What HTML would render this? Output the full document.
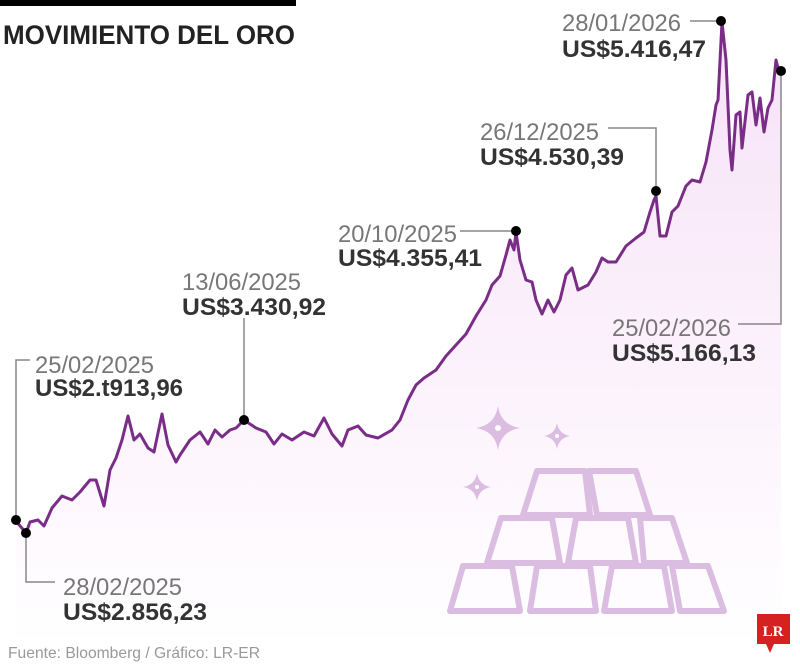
<!DOCTYPE html>
<html><head><meta charset="utf-8"><style>
body{margin:0;background:#fff;width:800px;height:666px;overflow:hidden;font-family:"Liberation Sans",sans-serif}
</style></head><body>
<svg width="800" height="666" viewBox="0 0 800 666" xmlns="http://www.w3.org/2000/svg">
<defs>
<linearGradient id="g" x1="0" y1="0" x2="0" y2="1">
<stop offset="0" stop-color="#f6e2f7"/><stop offset="0.6" stop-color="#fcf3fc"/><stop offset="1" stop-color="#ffffff"/>
</linearGradient>
</defs>
<rect x="0" y="0" width="296" height="6" fill="#000"/>
<text x="3" y="44" font-size="27" font-weight="bold" fill="#222" textLength="292" lengthAdjust="spacingAndGlyphs">MOVIMIENTO DEL ORO</text>
<path d="M16,521 L26,533 30,522 38,520 44,526 52,508 62,496 72,500 80,492 90,480 96,480 104,506 110,470 116,458 122,440 128,416 134,440 140,434 148,448 154,452 162,414 168,445 176,462 180,455 190,440 200,432 208,444 215,430 222,437 230,430 236,428 244,420 256,428 266,432 274,444 282,434 292,440 304,432 314,436 324,418 332,434 342,446 348,430 358,426 366,435 378,438 392,430 400,420 408,400 416,385 424,378 436,370 446,356 456,345 466,334 476,316 486,300 492,285 500,276 506,255 510,240 514,250 516,232 520,260 526,280 532,282 536,300 542,314 548,300 554,312 560,300 566,275 572,268 578,290 588,285 596,272 602,258 608,262 616,262 626,246 636,238 644,232 650,212 654,200 656,196 660,236 666,236 672,212 678,206 686,186 692,180 700,182 706,162 712,130 716,105 718,100 722,22 726,60 730,150 732,170 736,115 740,112 742,148 748,95 752,92 756,125 760,98 764,132 768,108 772,100 776,60 778,68 781,71 L781,645 L16,645 Z" fill="url(#g)"/>
<polyline fill="none" stroke="#7a2d86" stroke-width="3" stroke-linejoin="round" points="16,521 26,533 30,522 38,520 44,526 52,508 62,496 72,500 80,492 90,480 96,480 104,506 110,470 116,458 122,440 128,416 134,440 140,434 148,448 154,452 162,414 168,445 176,462 180,455 190,440 200,432 208,444 215,430 222,437 230,430 236,428 244,420 256,428 266,432 274,444 282,434 292,440 304,432 314,436 324,418 332,434 342,446 348,430 358,426 366,435 378,438 392,430 400,420 408,400 416,385 424,378 436,370 446,356 456,345 466,334 476,316 486,300 492,285 500,276 506,255 510,240 514,250 516,232 520,260 526,280 532,282 536,300 542,314 548,300 554,312 560,300 566,275 572,268 578,290 588,285 596,272 602,258 608,262 616,262 626,246 636,238 644,232 650,212 654,200 656,196 660,236 666,236 672,212 678,206 686,186 692,180 700,182 706,162 712,130 716,105 718,100 722,22 726,60 730,150 732,170 736,115 740,112 742,148 748,95 752,92 756,125 760,98 764,132 768,108 772,100 776,60 778,68 781,71"/>
<g fill="none" stroke="#dcbde2" stroke-width="6" stroke-linejoin="round">
<path d="M537,471 L585,471 L590,515 L523,515 Z"/>
<path d="M589,471 L636,471 L650,515 L597,515 Z"/>
<path d="M501,518 L552,518 L560,563 L487,563 Z"/>
<path d="M576,518 L628,518 L636,563 L568,563 Z"/>
<path d="M640,518 L672,518 L687,563 L644,563 Z"/>
<path d="M463,566 L512,566 L520,611 L450,611 Z"/>
<path d="M537,566 L590,566 L596,611 L530,611 Z"/>
<path d="M612,566 L664,566 L672,611 L604,611 Z"/>
<path d="M672,566 L708,566 L724,611 L680,611 Z"/>
</g>
<g fill="#dcbde2">
<path d="M498,406 Q501,425 520,428 Q501,431 498,450 Q495,431 476,428 Q495,425 498,406 Z"/>
<path d="M557,423 Q559,434 570,436 Q559,438 557,449 Q555,438 544,436 Q555,434 557,423 Z"/>
<path d="M477,473 Q479,485 491,487 Q479,489 477,501 Q475,489 463,487 Q475,485 477,473 Z"/>
</g>
<g fill="#fff"><circle cx="498" cy="428" r="3"/><circle cx="557" cy="436" r="2"/><circle cx="477" cy="487" r="2"/></g>
<g fill="none" stroke="#888" stroke-width="1.5">
<polyline points="16,520 16,360 30,360"/>
<polyline points="26,533 26,582 55,582"/>
<polyline points="244,420 244,318"/>
<polyline points="460,231 516,231"/>
<polyline points="608,128 656,128 656,191"/>
<polyline points="690,21 721,21"/>
<polyline points="738,324 781,324 781,71"/>
</g>
<g fill="#000">
<circle cx="16" cy="520" r="5"/><circle cx="26" cy="533" r="5"/><circle cx="244" cy="420" r="5"/>
<circle cx="516" cy="231" r="5"/><circle cx="656" cy="191" r="5"/><circle cx="721" cy="21" r="5"/><circle cx="781" cy="71" r="5"/>
</g>
<g font-size="24">
<text x="35" y="373" fill="#777" textLength="119" lengthAdjust="spacingAndGlyphs">25/02/2025</text><text x="35" y="396" fill="#333" font-weight="bold" textLength="148" lengthAdjust="spacingAndGlyphs">US$2.t913,96</text>
<text x="63" y="595" fill="#777" textLength="119" lengthAdjust="spacingAndGlyphs">28/02/2025</text><text x="63" y="620" fill="#333" font-weight="bold" textLength="144" lengthAdjust="spacingAndGlyphs">US$2.856,23</text>
<text x="182" y="290" fill="#777" textLength="119" lengthAdjust="spacingAndGlyphs">13/06/2025</text><text x="182" y="315" fill="#333" font-weight="bold" textLength="144" lengthAdjust="spacingAndGlyphs">US$3.430,92</text>
<text x="338" y="242" fill="#777" textLength="119" lengthAdjust="spacingAndGlyphs">20/10/2025</text><text x="338" y="266" fill="#333" font-weight="bold" textLength="144" lengthAdjust="spacingAndGlyphs">US$4.355,41</text>
<text x="480" y="140" fill="#777" textLength="119" lengthAdjust="spacingAndGlyphs">26/12/2025</text><text x="480" y="165" fill="#333" font-weight="bold" textLength="144" lengthAdjust="spacingAndGlyphs">US$4.530,39</text>
<text x="562" y="31" fill="#777" textLength="119" lengthAdjust="spacingAndGlyphs">28/01/2026</text><text x="562" y="57" fill="#333" font-weight="bold" textLength="144" lengthAdjust="spacingAndGlyphs">US$5.416,47</text>
<text x="612" y="336" fill="#777" textLength="119" lengthAdjust="spacingAndGlyphs">25/02/2026</text><text x="612" y="361" fill="#333" font-weight="bold" textLength="144" lengthAdjust="spacingAndGlyphs">US$5.166,13</text>
</g>
<text x="8" y="658" font-size="16" fill="#999" textLength="252" lengthAdjust="spacingAndGlyphs">Fuente: Bloomberg / Gráfico: LR-ER</text>
<rect x="757" y="614" width="33" height="30" fill="#d42222"/>
<path d="M766,644 L770,653 L774,644 Z" fill="#d42222"/>
<text x="773" y="636" font-size="15" font-weight="bold" fill="#fff" text-anchor="middle" font-family="Liberation Serif,serif">LR</text>
</svg>
</body></html>
